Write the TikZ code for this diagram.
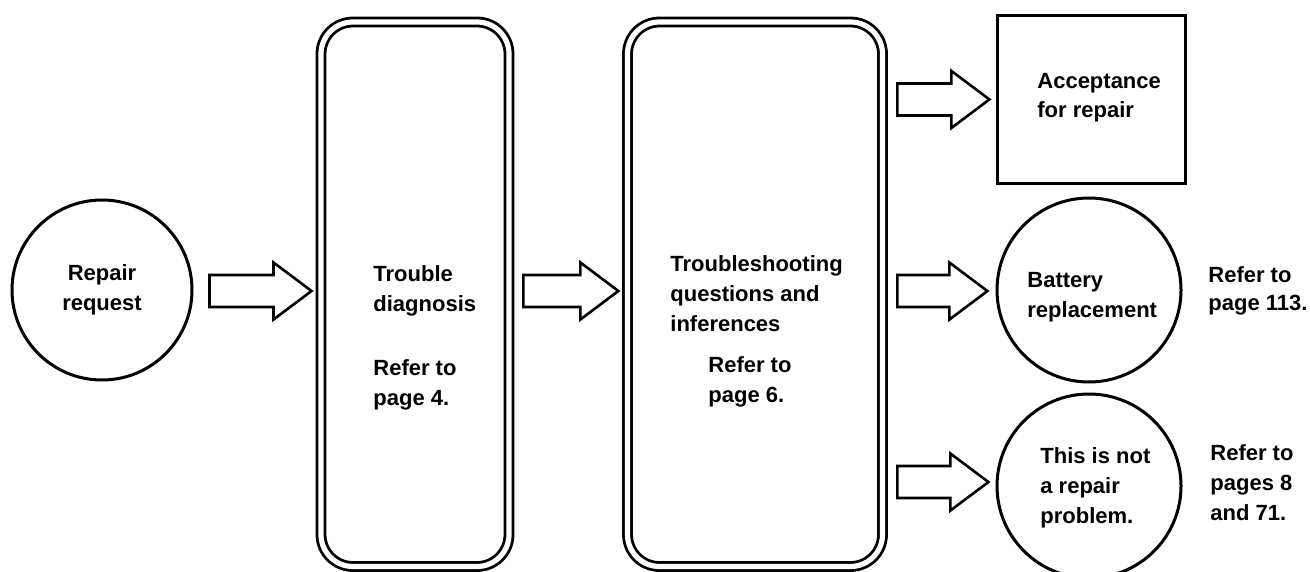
\documentclass[tikz,border=0pt]{standalone}
\usepackage{fontspec}
\setmainfont{Liberation Sans}
\begin{document}
\begin{tikzpicture}[x=0.5pt,y=-0.5pt,
  every node/.style={font=\bfseries\fontsize{11}{15}\selectfont},
  outline/.style={draw, line width=1.5pt},
  roundshape/.style={outline, circle, inner sep=0pt},
  panel/.style={draw, line width=1.4pt, double, double distance=2.6pt,
                rounded corners=16pt, inner sep=0pt},
  boxshape/.style={outline, rectangle, inner sep=0pt},
  % multi-line blocks are anchored at the baseline of their last line
  textblock/.style={align=left, inner sep=0pt, anchor=base west},
  arrowstroke/.style={draw, line width=1.3pt, line join=miter, fill=white},
  pics/fatarrow/.style={code={
    \path[arrowstroke] (0,-16) -- ({#1-38},-16) -- ({#1-38},-28.5) -- (#1,0)
      -- ({#1-38},28.5) -- ({#1-38},16) -- (0,16) -- cycle;}}
]
\useasboundingbox (0,0) rectangle (1310,572);

% start of the procedure
\node[roundshape, minimum size=90pt, align=center] (req) at (102,290) {Repair\\request};

% the two main stages
\node[panel, minimum width=94pt, minimum height=272.25pt] (diag) at (415,294.25) {};
\node[textblock] (diagtext) at (373,405)
  {Trouble\\diagnosis\\[17pt]Refer to\\page 4.};

\node[panel, minimum width=127.5pt, minimum height=272.25pt] (shoot) at (755,294.25) {};
\node[textblock] (shoottext) at (670,331)
  {Troubleshooting\\questions and\\inferences};
\node[textblock] (shootref) at (708,402) {Refer to\\page 6.};

% possible outcomes
\node[boxshape, minimum width=94pt, minimum height=84pt] (acc) at (1091.5,99.5) {};
\node[textblock] (acctext) at (1037,118) {Acceptance\\[-0.5pt]for repair};

\node[roundshape, minimum size=92pt] (bat) at (1089,290) {};
\node[textblock] (battext) at (1027,317) {Battery\\replacement};
\node[textblock] (batref) at (1208,310) {Refer to\\[-1pt]page 113.};

\node[roundshape, minimum size=92pt] (norep) at (1089,486) {};
\node[textblock] (noreptext) at (1040,523) {This is not\\a repair\\problem.};
\node[textblock] (norepref) at (1210,520) {Refer to\\pages 8\\and 71.};

% block arrows between the stages
\path (req.east) ++(16,1) pic {fatarrow=102};
\path (diag.east |- req) ++(13,1) pic {fatarrow=95};
\path (shoot.east |- acc) ++(13.5,0) pic {fatarrow=92};
\path (shoot.east |- bat) ++(13.5,1) pic {fatarrow=90};
\path (shoot.east |- norep) ++(13.5,-4) pic {fatarrow=91};
\end{tikzpicture}
\end{document}
